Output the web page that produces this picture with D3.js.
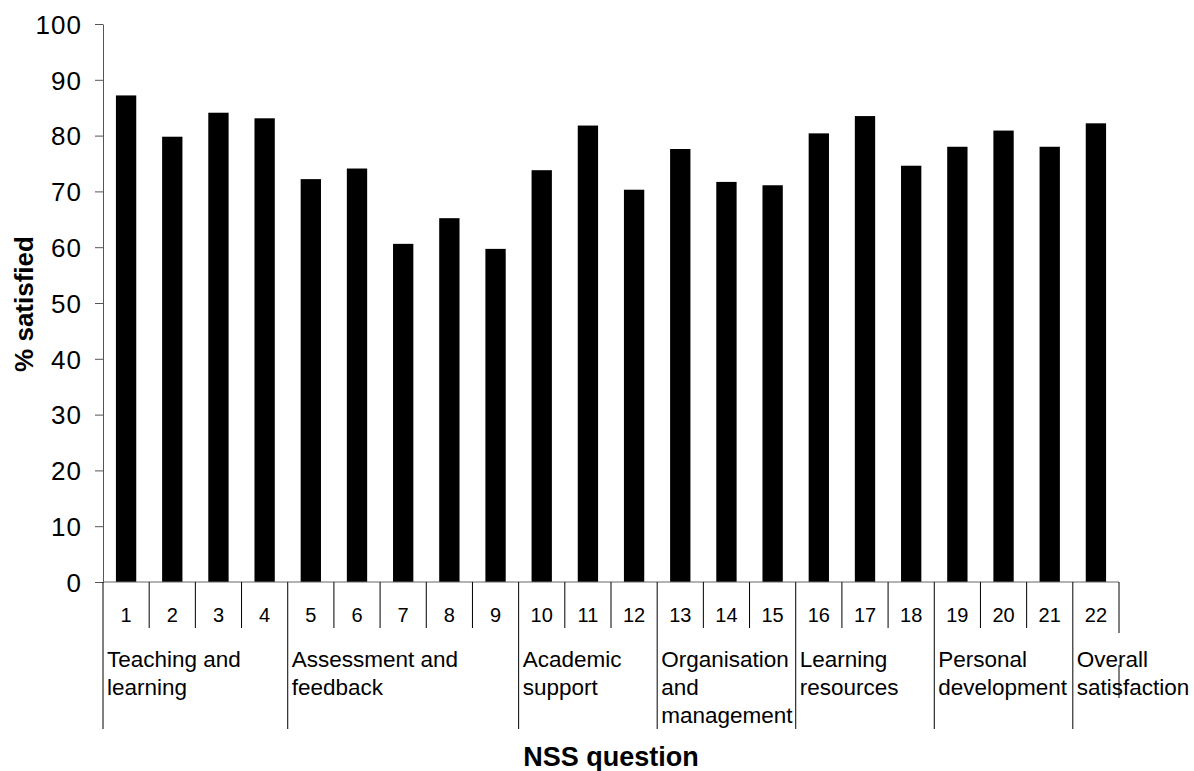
<!DOCTYPE html>
<html>
<head>
<meta charset="utf-8">
<script src="https://cdn.jsdelivr.net/npm/d3@7"></script>
<style>
	body { margin: 0; background: #fff; }
	svg text { font-family: "Liberation Sans", Arial, sans-serif; fill: #000; }
</style>
</head>
<body>
<div id="chart"></div>
<script>
// NSS questions 1..22, % satisfied
var questions = ['1','2','3','4','5','6','7','8','9','10','11','12','13','14','15','16','17','18','19','20','21','22'];
var satisfied = [87.2, 79.8, 84.1, 83.1, 72.2, 74.1, 60.6, 65.2, 59.7, 73.8, 81.8, 70.3, 77.6, 71.7, 71.1, 80.4, 83.5, 74.6, 78.0, 80.9, 78.0, 82.2];
var yTicks = [0, 10, 20, 30, 40, 50, 60, 70, 80, 90, 100];

// question groups: first question of each group, label lines
var groupStart = ['1', '5', '10', '13', '16', '19', '22'];
var groupLabels = [
	['Teaching and', 'learning'],
	['Assessment and', 'feedback'],
	['Academic', 'support'],
	['Organisation', 'and', 'management'],
	['Learning', 'resources'],
	['Personal', 'development'],
	['Overall', 'satisfaction']
];

(function() {
	var width = 1194, height = 771;
	var plotLeft = 103, plotRight = 1119, plotTop = 24, plotBottom = 582;

	var svg = d3.select('#chart').append('svg')
		.attr('width', width)
		.attr('height', height);

	var y = d3.scaleLinear().domain([0, 100]).range([plotBottom, plotTop]);
	var xCat = d3.scaleBand().domain(questions).range([plotLeft, plotRight]);
	var x = d3.scaleBand().domain(questions).range([plotLeft, plotRight])
		.paddingInner(0.56).paddingOuter(0.28);

	var data = questions.map(function(q, i) { return {q: q, v: satisfied[i]}; });

	// bars
	svg.append('g').selectAll('rect').data(data)
		.enter().append('rect')
			.attr('x', function(d) { return x(d.q); })
			.attr('width', x.bandwidth())
			.attr('y', function(d) { return y(d.v); })
			.attr('height', function(d) { return y(0) - y(d.v); })
			.attr('fill', '#000');

	// y axis
	var yAxis = svg.append('g')
		.attr('transform', 'translate(' + plotLeft + ',0)')
		.call(d3.axisLeft(y).tickValues(yTicks).tickSize(8).tickSizeOuter(0).tickPadding(13));
	yAxis.select('.domain').attr('stroke', '#555');
	yAxis.selectAll('.tick line').attr('stroke', '#555');
	yAxis.selectAll('.tick text')
		.style('font-size', '26px')
		.style('letter-spacing', '1px')
		.attr('dy', '0.36em');

	// category axis line
	svg.append('line')
		.attr('x1', plotLeft).attr('x2', plotRight)
		.attr('y1', y(0)).attr('y2', y(0))
		.attr('stroke', '#666');

	// boundaries between questions
	var cat = svg.append('g').attr('class', 'cat-axis');
	cat.selectAll('line.q').data(questions)
		.enter().append('line')
			.attr('class', 'q')
			.attr('x1', function(d) { return xCat(d); })
			.attr('x2', function(d) { return xCat(d); })
			.attr('y1', y(0))
			.attr('y2', function(d) { return groupStart.indexOf(d) >= 0 ? 729 : 628; })
			.attr('stroke', '#000');

	// right end of the category axis
	cat.append('line')
		.attr('x1', plotRight).attr('x2', plotRight)
		.attr('y1', y(0)).attr('y2', 633)
		.attr('stroke', '#000');
	cat.append('line')
		.attr('x1', plotRight).attr('x2', plotRight)
		.attr('y1', 665).attr('y2', 698)
		.attr('stroke', '#000');

	// question numbers
	cat.selectAll('text.num').data(questions)
		.enter().append('text')
			.attr('class', 'num')
			.attr('x', function(d) { return xCat(d) + xCat.bandwidth() / 2; })
			.attr('y', 622)
			.attr('text-anchor', 'middle')
			.style('font-size', '20px')
			.text(function(d) { return d; });

	// group labels
	var groups = cat.selectAll('text.grp').data(groupStart)
		.enter().append('text')
			.attr('class', 'grp')
			.attr('x', function(d) { return xCat(d) + 4; })
			.attr('y', 667)
			.style('font-size', '22.5px');
	groups.selectAll('tspan').data(function(d, i) { return groupLabels[i]; })
		.enter().append('tspan')
			.attr('x', function() { return this.parentNode.getAttribute('x'); })
			.attr('y', function(d, i) { return 667 + i * 28; })
			.text(function(d) { return d; });

	// axis titles
	svg.append('text')
		.attr('transform', 'translate(33,' + ((plotTop + plotBottom) / 2 + 1) + ') rotate(-90)')
		.attr('text-anchor', 'middle')
		.style('font-size', '26px')
		.style('font-weight', 'bold')
		.text('% satisfied');

	svg.append('text')
		.attr('x', (plotLeft + plotRight) / 2)
		.attr('y', 766)
		.attr('text-anchor', 'middle')
		.style('font-size', '27px')
		.style('font-weight', 'bold')
		.text('NSS question');
})();
</script>
</body>
</html>
